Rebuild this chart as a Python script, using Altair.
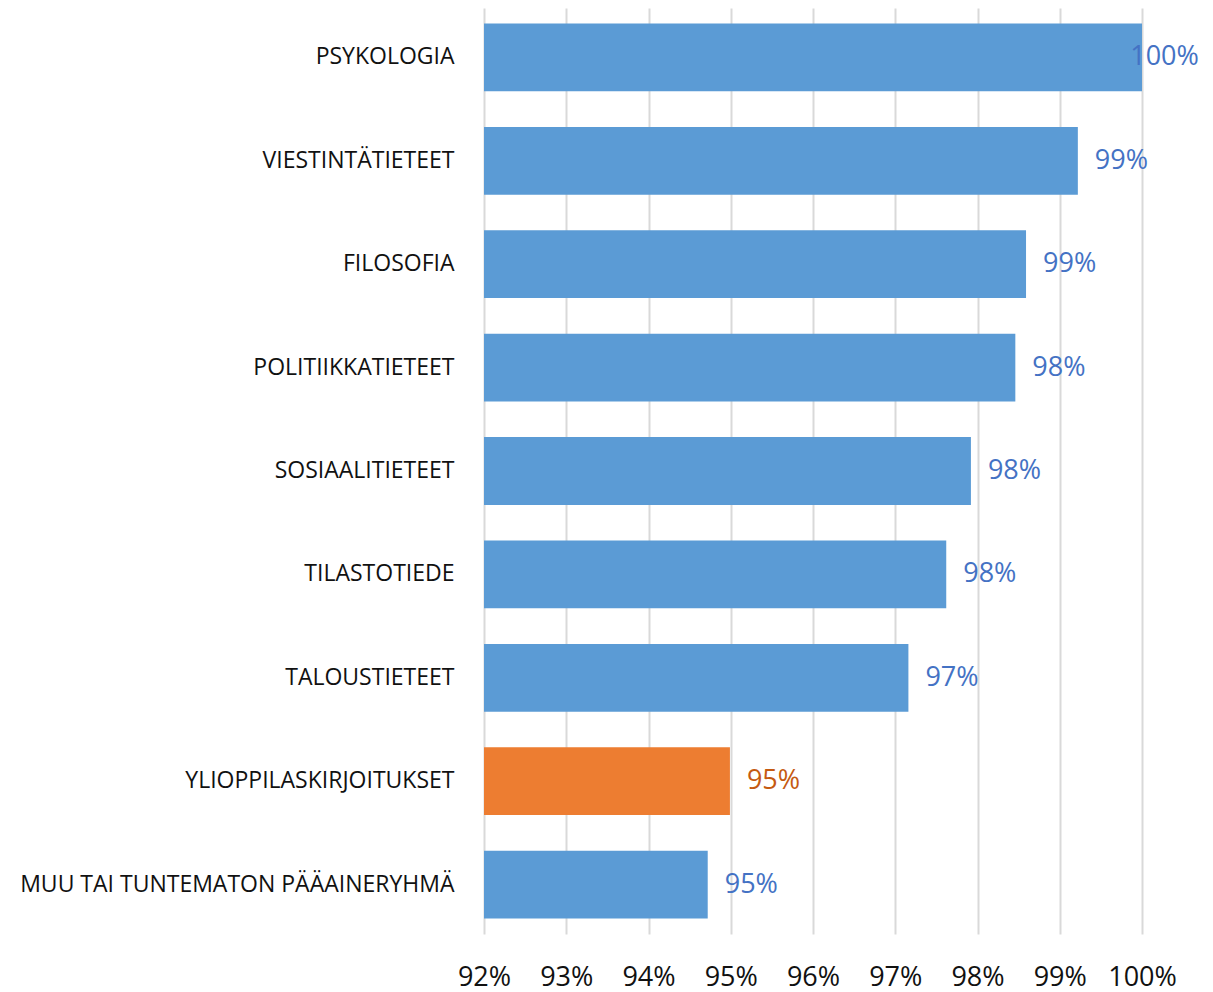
import altair as alt
import pandas as pd

categories = [
    "Psykologia",
    "Viestintätieteet",
    "Filosofia",
    "Politiikkatieteet",
    "Sosiaalitieteet",
    "Tilastotiede",
    "Taloustieteet",
    "Ylioppilaskirjoitukset",
    "Muu tai tuntematon pääaineryhmä",
]
values = [100.0, 99.22, 98.59, 98.46, 97.92, 97.62, 97.16, 94.99, 94.72]
highlight = "Ylioppilaskirjoitukset"
x_ticks = [92, 93, 94, 95, 96, 97, 98, 99, 100]

df = pd.DataFrame({"category": categories, "value": values})
df["group"] = ["highlight" if c == highlight else "normal" for c in categories]

FONT = "Open Sans"

y_enc = alt.Y(
    "category:N",
    sort=categories,
    scale=alt.Scale(paddingInner=0.344, paddingOuter=0.15),
    axis=alt.Axis(
        title=None,
        labelExpr="upper(datum.label)",
        labelFontSize=23,
        labelColor="#111111",
        labelFont=FONT,
        labelPadding=30,
        ticks=False,
        domain=False,
        labelLimit=600,
    ),
)

x_scale = alt.Scale(domain=[92, 100], nice=False, clamp=False)

bars = (
    alt.Chart(df)
    .mark_bar()
    .encode(
        x=alt.X(
            "value:Q",
            scale=x_scale,
            axis=alt.Axis(
                title=None,
                values=x_ticks,
                labelExpr="datum.value + '%'",
                labelFontSize=27,
                labelFont=FONT,
                labelColor="#111111",
                labelPadding=30,
                labelAlign="center",
                labelOverlap=False,
                labelFlush=False,
                ticks=False,
                domain=False,
                grid=True,
                gridColor="#D9D9D9",
                gridWidth=2,
            ),
        ),
        x2=alt.datum(92),
        y=y_enc,
        color=alt.Color(
            "group:N",
            scale=alt.Scale(domain=["normal", "highlight"], range=["#5B9BD5", "#ED7D31"]),
            legend=None,
        ),
    )
)

labels = (
    alt.Chart(df)
    .transform_calculate(
        lx="datum.value >= 99.9 ? datum.value - 0.35 : datum.value",
        txt="format(datum.value, '.0f') + '%'",
    )
    .mark_text(align="left", baseline="middle", dx=17, fontSize=27, font=FONT)
    .encode(
        x=alt.X("lx:Q", scale=x_scale),
        y=alt.Y("category:N", sort=categories),
        text="txt:N",
        color=alt.Color(
            "group:N",
            scale=alt.Scale(domain=["normal", "highlight"], range=["#4472C4", "#C55A11"]),
            legend=None,
        ),
    )
)

chart = (
    alt.layer(bars, labels)
    .resolve_scale(color="independent")
    .properties(
        width=658,
        height=926,
        autosize=alt.AutoSizeParams(type="none"),
        padding={"left": 476, "top": 0, "right": 60, "bottom": 60},
    )
    .configure_view(stroke=None)
)

chart.save("out.html", embed_options={"renderer": "svg", "actions": False})
